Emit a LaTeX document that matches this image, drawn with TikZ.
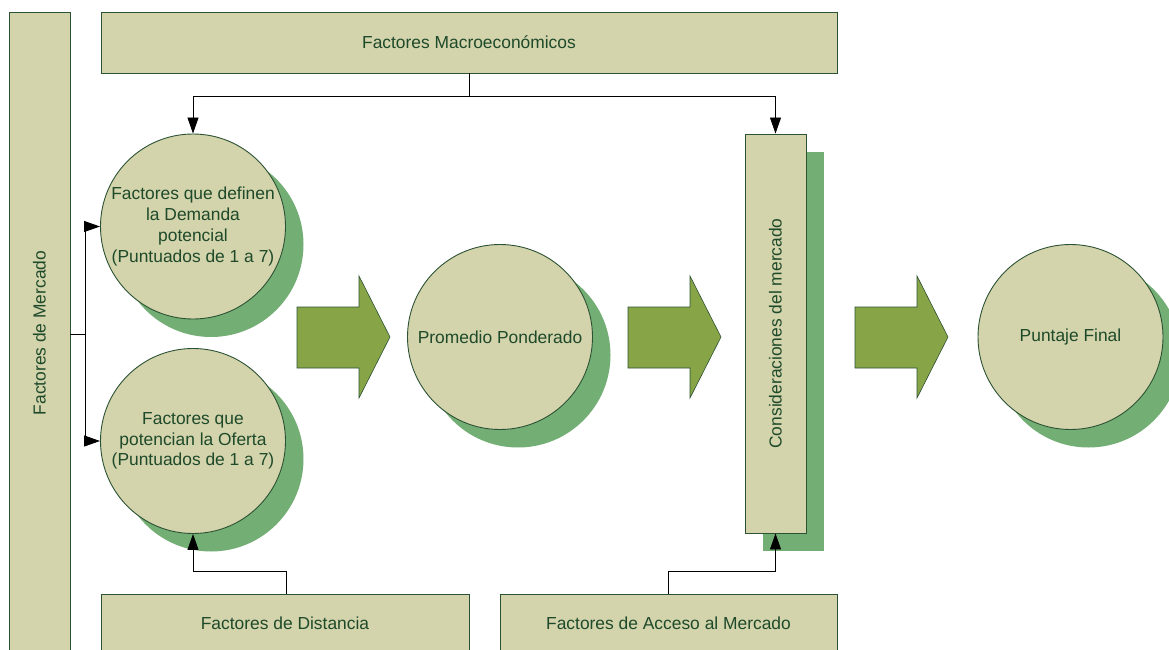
\documentclass[tikz,border=0pt]{standalone}
\usepackage{fontspec}
\setmainfont{Liberation Sans}
\usetikzlibrary{arrows.meta,shadows}
\definecolor{boxfill}{RGB}{211,211,172}
\definecolor{boxline}{RGB}{44,82,52}
\definecolor{txtgreen}{RGB}{30,74,42}
\definecolor{shadowgreen}{RGB}{115,174,116}
\definecolor{arrowgreen}{RGB}{135,164,71}
\tikzset{
  basebox/.style={draw=boxline, fill=boxfill, line width=0.9pt, text=txtgreen,
    font=\fontsize{17.4}{20.7}\selectfont, inner sep=0pt, align=center},
  sbox/.style={basebox, rectangle},
  shadowed/.style={general shadow={fill=shadowgreen, shadow xshift=18pt, shadow yshift=-18pt}},
  bubble/.style={basebox, circle, minimum size=185pt, shadowed},
  link/.style={draw=black, line width=0.9pt},
  tip/.style={link, -{Triangle[length=16pt,width=11pt]}},
  blockarrow/.style={fill=arrowgreen, draw=boxline, line width=0.6pt},
}
\begin{document}
\begin{tikzpicture}[x=1pt,y=-1pt]
\useasboundingbox (0,0) rectangle (1169,650);
\clip (0,0) rectangle (1169,650);

% frame boxes
\node[sbox, minimum width=61pt, minimum height=642pt] (mercado) at (39.5,333)
  {\rotatebox{90}{Factores de Mercado}};
\node[sbox, minimum width=736pt, minimum height=61pt] (macro) at (469,42.5)
  {Factores Macroeconómicos};
\node[sbox, minimum width=368pt, minimum height=58pt] (dist) at (285,623)
  {Factores de Distancia};
\node[sbox, minimum width=337pt, minimum height=58pt] (acceso) at (668.5,623)
  {Factores de Acceso al Mercado};

% circles
\node[bubble] (c1) at (193,226.5)
  {Factores que definen\\la Demanda\\potencial\\(Puntuados de 1 a 7)};
\node[bubble] (c2) at (193,441)
  {Factores que\\potencian la Oferta\\(Puntuados de 1 a 7)};
\node[bubble] (c3) at (500,337) {Promedio Ponderado};
\node[bubble] (c4) at (1070.5,337) {Puntaje Final};

% market considerations column
\node[sbox, shadowed, minimum width=61pt, minimum height=399pt] (cons) at (775.5,333.5)
  {\rotatebox{90}{Consideraciones del mercado}};

% block arrows between stages
\foreach \dx in {297,628,855}{
  \draw[blockarrow, shift={(\dx pt,0)}]
    (0,307) -- (62,307) -- (62,276) -- (93,337) -- (62,398) -- (62,368) -- (0,368) -- cycle;
}

% connectors
\coordinate (mj) at (469,96);
\draw[link] (macro.south) -- (mj);
\draw[tip] (mj) -| (c1.north);
\draw[tip] (mj) -| (cons.north);

\coordinate (lj) at (85,334);
\draw[link] (mercado.east |- lj) -- (lj);
\draw[tip] (lj) |- (c1.west);
\draw[tip] (lj) |- (c2.west);

\coordinate (dj) at (286,571);
\draw[link] (dist.north -| dj) -- (dj);
\draw[tip] (dj) -| (c2.south);

\coordinate (aj) at (668,571);
\draw[link] (acceso.north -| aj) -- (aj);
\draw[tip] (aj) -| (cons.south);
\end{tikzpicture}
\end{document}
